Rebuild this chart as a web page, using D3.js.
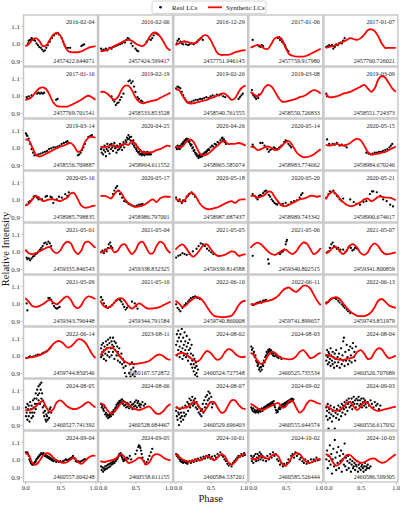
<!DOCTYPE html>
<html>
<head>
<meta charset="utf-8">
<script src="https://cdn.jsdelivr.net/npm/d3@7"></script>
<style>
body{margin:0;background:#fff}
svg{display:block;font-family:"Liberation Serif","DejaVu Serif",serif}
</style>
</head>
<body>
<svg id="chart" width="400" height="507"></svg>
<script>
// panel labels
const dates = [
  "2016-02-04","2016-02-06","2016-12-29","2017-01-06","2017-01-07",
  "2017-01-16","2019-02-19","2019-02-26","2019-03-08","2019-03-09",
  "2019-03-14","2020-04-25","2020-04-26","2020-05-14","2020-05-15",
  "2020-05-16","2020-05-17","2020-05-18","2020-05-20","2020-05-21",
  "2021-05-01","2021-05-04","2021-05-05","2021-05-06","2021-05-07",
  "2021-05-09","2021-05-10","2022-06-10","2022-06-11","2022-06-13",
  "2022-06-14","2023-08-11","2024-08-02","2024-08-03","2024-08-04",
  "2024-08-05","2024-08-06","2024-08-07","2024-09-02","2024-09-03",
  "2024-09-04","2024-09-05","2024-10-01","2024-10-02","2024-10-03"]
const jds = [
  "2457422.644071","2457424.599417","2457751.946145","2457759.917980","2457760.726021",
  "2457769.701541","2458533.853528","2458540.761555","2458550.726833","2458551.724373",
  "2458556.709887","2458964.611552","2458965.585074","2458983.774662","2458984.670246",
  "2458985.798835","2458986.797001","2458987.687437","2458989.743342","2458990.674617",
  "2459335.846543","2459338.832325","2459339.814588","2459340.802515","2459341.800859",
  "2459343.796448","2459344.791584","2459740.860008","2459741.899657","2459743.851979",
  "2459744.850546","2460167.572872","2460524.727548","2460525.735534","2460526.707689",
  "2460527.741392","2460528.684467","2460529.696403","2460555.644574","2460556.617032",
  "2460557.604248","2460558.611155","2460584.537201","2460585.526444","2460586.509305"]

const xTicks = [0, 0.5, 1]
const yTicks = [0.9, 1.0, 1.1]

// phases where the synthetic curves are read
const phases = [0,0.05,0.1,0.15,0.2,0.25,0.3,0.35,0.4,0.45,0.5,0.55,0.6,0.65,0.7,0.75,0.8,0.85,0.9,0.95,1]

// synthetic light curves, one per panel
const synthetic = [
  [0.985,0.995,1.02,1.03,1.015,0.985,0.99,1.02,1.05,1.06,1.045,1.0,0.96,0.95,0.95,0.95,0.955,0.965,0.975,0.98,0.985],
  [0.955,0.958,0.965,0.975,0.985,0.995,1.005,1.015,1.02,1.015,1.0,0.99,0.985,1.0,1.035,1.06,1.06,1.04,1.01,0.975,0.96],
  [0.99,1.0,1.01,1.01,1.005,1.0,1.005,1.025,1.045,1.045,1.02,0.98,0.945,0.935,0.935,0.935,0.94,0.95,0.955,0.96,0.962],
  [0.975,0.985,0.99,0.985,0.97,0.97,1.0,1.03,1.035,1.02,0.975,0.94,0.93,0.925,0.925,0.925,0.93,0.94,0.95,0.96,0.97],
  [0.975,0.98,0.985,0.99,1.0,1.01,1.02,1.03,1.025,1.02,1.03,1.05,1.075,1.08,1.07,1.04,1.0,0.975,0.975,0.975,0.975],
  [0.975,0.98,0.995,1.02,1.04,1.045,1.035,1.0,0.96,0.94,0.937,0.937,0.937,0.945,0.955,0.965,0.975,0.99,0.998,0.99,0.975],
  [1.02,1.02,1.01,0.99,0.975,0.99,1.03,1.055,1.055,1.03,0.99,0.965,0.955,0.96,0.965,0.97,0.975,0.985,0.995,1.005,1.015],
  [1.035,1.03,1.0,0.97,0.955,0.955,0.96,0.965,0.97,0.975,0.985,0.99,1.0,1.01,1.01,0.995,0.975,0.985,1.02,1.045,1.055],
  [1.02,1.005,0.995,1.01,1.045,1.06,1.05,1.02,0.985,0.965,0.965,0.97,0.975,0.98,0.99,0.995,1.005,1.02,1.03,1.025,1.01],
  [1.01,0.99,0.99,0.995,1.0,1.01,1.015,1.02,1.03,1.04,1.05,1.06,1.04,1.02,1.04,1.09,1.11,1.1,1.07,1.04,1.02],
  [1.045,1.04,1.0,0.96,0.948,0.955,0.965,0.975,0.985,0.995,1.005,1.01,1.02,1.025,1.005,0.975,0.985,1.03,1.055,1.06,1.055],
  [1.005,1.0,1.005,1.01,1.01,1.0,1.015,1.02,1.015,1.035,1.02,0.99,0.975,0.97,0.972,0.975,0.985,0.99,1.0,1.01,1.005],
  [1.005,1.0,1.005,1.03,1.045,1.035,1.0,0.965,0.955,0.96,0.975,0.995,1.01,1.03,1.035,1.02,1.02,1.02,1.025,1.02,1.01],
  [1.005,1.0,0.985,0.99,1.0,1.005,0.995,0.985,0.99,1.01,1.03,1.035,1.01,0.975,0.955,0.945,0.945,0.95,0.96,0.975,0.99],
  [1.015,1.01,1.015,1.02,1.015,1.01,1.015,1.025,1.04,1.05,1.04,1.01,0.975,0.96,0.962,0.965,0.97,0.975,0.985,0.995,1.005],
  [0.965,0.975,1.0,1.02,1.01,0.99,0.995,1.0,1.0,0.995,0.99,1.0,1.01,1.035,1.035,1.0,0.965,0.953,0.955,0.962,0.965],
  [1.02,1.02,1.015,1.005,1.03,1.05,1.035,1.0,0.98,0.965,0.958,0.96,0.965,0.975,0.99,1.0,0.985,1.005,1.015,1.015,1.015],
  [1.0,0.995,0.985,1.005,1.035,1.035,1.01,0.975,0.955,0.945,0.945,0.95,0.955,0.965,0.975,0.985,0.99,0.98,0.995,1.0,1.0],
  [1.02,1.02,1.01,1.015,1.025,1.045,1.04,1.01,0.985,0.965,0.962,0.97,0.98,0.99,1.0,1.005,1.01,1.02,1.02,1.015,1.02],
  [1.0,1.03,1.045,1.03,1.005,0.985,0.97,0.962,0.965,0.975,0.985,1.0,1.005,0.99,1.0,1.015,1.015,1.01,1.01,1.005,0.995],
  [1.01,0.99,0.985,0.99,1.0,1.01,1.02,1.025,1.0,0.99,1.005,1.04,1.055,1.045,1.005,0.985,1.005,1.05,1.055,1.04,1.02],
  [0.995,1.0,1.015,1.02,0.995,1.005,1.035,1.04,1.01,0.985,1.005,1.045,1.055,1.025,0.99,0.99,1.03,1.055,1.045,1.01,0.99],
  [1.01,1.03,1.04,1.02,0.99,0.97,0.985,1.01,1.035,1.04,1.015,0.99,0.975,0.975,0.98,0.99,1.0,0.995,0.975,0.98,0.985],
  [1.02,1.04,1.05,1.04,1.02,1.0,0.985,0.98,0.99,1.005,1.01,0.995,0.985,1.0,1.03,1.05,1.045,1.015,0.985,0.995,1.02],
  [0.99,1.0,1.02,1.025,1.0,0.985,1.005,1.035,1.04,1.02,0.99,0.98,0.995,1.03,1.045,1.03,1.0,0.985,0.985,0.99,0.995],
  [1.03,1.01,0.985,0.98,0.985,0.995,1.01,1.02,1.005,0.995,1.01,1.03,1.04,1.02,0.985,0.972,0.99,1.025,1.04,1.035,1.025],
  [1.015,0.985,0.975,0.985,1.005,1.025,1.03,1.015,0.985,0.97,0.985,1.0,0.99,0.975,0.97,0.972,0.975,0.98,0.99,1.0,1.01],
  [1.015,1.0,0.98,0.99,1.01,1.025,1.035,1.03,1.01,0.98,0.95,0.93,0.925,0.922,0.922,0.925,0.93,0.955,0.99,1.01,1.015],
  [0.995,0.995,1.0,1.005,1.01,1.015,1.02,1.03,1.045,1.07,1.085,1.09,1.075,1.065,1.08,1.1,1.1,1.085,1.05,1.015,0.99],
  [0.995,1.015,1.03,1.035,1.025,1.0,0.975,0.955,0.94,0.93,0.928,0.928,0.935,0.95,0.98,1.015,1.025,1.01,0.99,0.98,0.975],
  [0.985,0.988,0.99,0.995,1.0,1.01,1.02,1.04,1.065,1.08,1.08,1.065,1.045,1.05,1.07,1.09,1.09,1.075,1.045,1.01,0.985],
  [1.0,1.025,1.04,1.045,1.035,1.01,0.985,0.965,0.955,0.952,0.952,0.955,0.958,0.962,0.97,0.985,1.0,1.005,0.995,0.98,0.975],
  [1.0,1.01,1.015,1.005,0.99,0.975,0.965,0.975,1.005,1.025,1.015,0.99,0.975,0.985,1.015,1.035,1.03,1.01,0.995,0.99,0.995],
  [1.015,1.0,0.97,0.952,0.965,1.0,1.02,1.015,0.995,0.985,0.98,0.978,0.98,0.995,1.02,1.03,1.01,0.985,0.99,1.005,1.015],
  [1.005,1.0,0.99,0.98,0.975,0.975,0.98,0.985,0.99,1.02,1.03,1.01,0.98,0.985,1.02,1.04,1.035,1.005,0.985,0.99,1.0],
  [0.985,0.985,0.99,1.005,1.025,1.035,1.0,0.975,0.99,1.03,1.04,1.025,1.005,0.995,0.99,0.995,1.005,1.02,1.03,1.015,1.0],
  [1.025,1.015,0.985,0.965,0.975,1.0,1.025,1.03,1.015,1.0,0.99,0.985,0.99,1.0,1.005,0.985,0.965,0.965,0.98,1.005,1.02],
  [1.0,0.995,0.995,1.0,1.01,1.03,1.025,0.995,0.975,1.0,1.03,1.03,1.0,0.97,0.975,1.01,1.04,1.04,1.015,0.995,0.99],
  [1.02,1.01,0.995,0.985,0.99,1.0,1.01,1.02,1.025,1.0,1.005,1.035,1.035,1.0,0.97,0.985,1.02,1.04,1.035,1.025,1.02],
  [1.01,1.0,0.985,0.98,0.985,1.0,1.025,1.03,1.005,0.985,1.005,1.03,1.025,1.0,0.985,0.98,0.985,0.99,0.995,1.0,1.005],
  [1.035,1.025,0.98,0.97,0.99,1.02,1.035,1.03,1.01,0.995,0.985,0.98,0.985,1.0,1.01,0.985,0.975,0.99,1.01,1.02,1.02],
  [0.99,0.985,0.99,0.995,1.0,1.015,1.03,1.01,0.98,0.985,0.995,1.01,1.0,0.97,0.985,1.02,1.03,1.025,1.01,1.0,0.995],
  [1.03,1.015,1.0,0.99,0.985,0.99,1.0,0.995,1.005,1.02,1.01,0.995,1.01,1.03,1.02,0.985,0.97,0.985,1.01,1.025,1.03],
  [1.005,1.0,1.005,1.02,1.01,1.005,1.02,1.03,1.015,0.975,0.965,0.985,1.02,1.035,1.03,1.005,0.985,0.98,0.99,1.0,1.0],
  [1.03,1.02,0.985,0.965,0.975,1.0,1.025,1.025,1.005,0.99,0.98,0.985,0.995,1.005,1.005,0.99,0.98,0.985,1.0,1.015,1.03]
]

// observed light curves: [phase, relative intensity]
const real = [
  [[0.04,1.0],[0.05,1.015],[0.07,1.02],[0.09,1.03],[0.1,1.025],[0.12,1.02],[0.14,1.015],[0.16,1.0],[0.18,0.99],[0.2,0.98],[0.22,0.975],[0.24,0.965],[0.26,0.955],[0.28,0.96],[0.3,0.975],[0.32,0.99],[0.35,1.01],[0.38,1.03],[0.41,1.045],[0.44,1.055],[0.46,1.06],[0.48,1.05],[0.52,1.03],[0.54,1.01],[0.56,0.99],[0.58,0.975],[0.61,0.975],[0.64,0.975],[0.8,0.985],[0.82,0.99],[0.84,0.995]],
  [[0.01,0.97],[0.03,0.96],[0.05,0.965],[0.08,0.97],[0.1,0.96],[0.13,0.975],[0.16,0.97],[0.19,0.98],[0.22,0.985],[0.25,0.99],[0.28,0.995],[0.31,1.0],[0.33,1.01],[0.35,1.005],[0.37,1.02],[0.39,1.03],[0.41,1.025],[0.44,1.0],[0.46,0.985],[0.5,0.97],[0.52,0.96],[0.54,0.955],[0.66,1.01],[0.69,1.025],[0.72,1.02],[0.74,1.03],[0.76,1.045],[0.78,1.06],[0.8,1.055],[0.82,1.05]],
  [[0.02,1.0],[0.03,1.015],[0.05,1.025],[0.07,1.01],[0.09,1.0],[0.11,0.995],[0.13,1.01],[0.15,0.995],[0.18,0.99],[0.2,0.995],[0.23,1.0],[0.26,0.995],[0.29,1.005],[0.31,1.01],[0.33,1.02],[0.35,1.025],[0.37,1.03],[0.39,1.02]],
  [[0.03,1.02],[0.1,0.99],[0.12,0.985],[0.14,0.98],[0.16,0.99],[0.18,0.985],[0.39,1.03],[0.41,1.035],[0.42,1.02],[0.44,1.025],[0.45,1.01],[0.47,1.0],[0.49,0.99],[0.5,0.98],[0.52,0.965],[0.54,0.955]],
  [[0.01,0.98],[0.03,0.985],[0.05,0.99],[0.07,0.985],[0.09,0.99],[0.11,0.97],[0.13,0.98],[0.15,0.995],[0.17,0.99],[0.19,1.0],[0.21,1.005],[0.23,1.0],[0.25,1.015],[0.27,1.03]],
  [[0.02,0.99],[0.03,0.98],[0.05,0.995],[0.07,0.985],[0.09,1.0],[0.17,1.01],[0.19,1.015],[0.21,1.01],[0.23,1.015],[0.25,1.01],[0.27,1.015],[0.44,0.975],[0.46,0.98]],
  [[0.16,0.995],[0.18,0.975],[0.2,0.965],[0.22,0.945],[0.24,0.955],[0.26,0.96],[0.28,0.975],[0.3,0.99],[0.33,1.01],[0.4,1.08],[0.42,1.085],[0.44,1.07],[0.46,1.08],[0.48,1.05],[0.5,1.02],[0.53,0.99],[0.55,0.98],[0.58,0.97],[0.6,0.965]],
  [[0.01,1.04],[0.03,1.05],[0.05,1.045],[0.07,1.04],[0.09,1.02],[0.11,1.0],[0.13,0.985],[0.15,0.97],[0.17,0.96],[0.2,0.96],[0.23,0.965],[0.26,0.97],[0.29,0.975],[0.32,0.975],[0.35,0.98],[0.38,0.98],[0.41,0.985],[0.44,0.99],[0.47,0.985],[0.5,0.995],[0.53,1.0],[0.56,0.995],[0.59,1.005],[0.62,1.0],[0.65,1.005],[0.68,0.995],[0.71,0.99],[0.9,0.98],[0.92,0.99],[0.94,1.0],[0.96,1.01]],
  [[0.02,1.03],[0.03,1.01],[0.04,1.0],[0.06,0.99],[0.08,0.98],[0.09,0.995],[0.11,0.985],[0.12,1.005]],
  [[0.01,1.01],[0.02,0.995]],
  [[0.01,1.08],[0.02,1.07],[0.03,1.065],[0.05,1.05],[0.07,1.02],[0.09,0.99],[0.11,0.97],[0.13,0.955],[0.16,0.955],[0.19,0.96],[0.22,0.965],[0.25,0.97],[0.28,0.975],[0.31,0.98],[0.34,0.99],[0.37,0.995],[0.4,1.0],[0.43,1.0],[0.46,1.005],[0.49,1.01],[0.52,1.02],[0.55,1.025],[0.58,1.03],[0.6,1.035],[0.62,1.025],[0.75,0.955],[0.77,0.96],[0.79,0.97],[0.81,0.985],[0.83,1.0],[0.85,1.02],[0.9,1.06],[0.93,1.065],[0.95,1.07]],
  [[0.01,0.99],[0.02,0.97],[0.03,1.0],[0.04,0.96],[0.05,0.985],[0.06,1.01],[0.07,0.975],[0.08,0.95],[0.09,0.99],[0.1,1.02],[0.11,0.98],[0.12,1.0],[0.13,0.965],[0.14,1.015],[0.15,0.99],[0.16,1.02],[0.17,1.0],[0.18,0.98],[0.19,1.01],[0.2,1.025],[0.21,0.995],[0.22,1.0],[0.23,0.97],[0.24,1.01],[0.25,0.985],[0.26,1.005],[0.27,0.99],[0.28,1.02],[0.29,1.0],[0.3,1.01],[0.31,0.985],[0.32,1.015],[0.33,1.03],[0.34,1.0],[0.35,1.02],[0.36,1.04],[0.37,1.03],[0.38,1.055],[0.39,1.045],[0.4,1.07],[0.41,1.05],[0.42,1.06],[0.43,1.04],[0.44,1.06],[0.45,1.035],[0.46,1.02],[0.47,1.04],[0.48,1.01],[0.49,1.0],[0.5,1.02],[0.51,0.99],[0.52,0.98],[0.53,1.0],[0.54,0.97],[0.55,0.975],[0.56,0.96],[0.57,0.985],[0.58,0.965],[0.59,0.955],[0.6,0.97],[0.61,0.96],[0.62,0.975],[0.63,0.955],[0.64,0.965],[0.65,0.97],[0.66,0.96],[0.67,0.975],[0.68,0.96],[0.69,0.965],[0.7,0.96],[0.71,0.965],[0.72,0.96]],
  [[0.01,1.0],[0.02,0.99],[0.03,1.01],[0.04,0.995],[0.05,1.005],[0.06,0.99],[0.07,1.01],[0.08,1.0],[0.09,1.02],[0.1,1.015],[0.11,1.03],[0.12,1.025],[0.13,1.04],[0.14,1.035],[0.15,1.045],[0.16,1.05],[0.17,1.04],[0.18,1.045],[0.19,1.03],[0.2,1.035],[0.21,1.02],[0.22,1.01],[0.23,1.015],[0.24,0.995],[0.25,1.0],[0.26,0.98],[0.27,0.985],[0.28,0.97],[0.29,0.96],[0.3,0.965],[0.31,0.95],[0.32,0.955],[0.33,0.94],[0.34,0.95],[0.35,0.96],[0.36,0.945],[0.37,0.955],[0.38,0.95],[0.39,0.96],[0.4,0.965],[0.41,0.955],[0.42,0.97],[0.43,0.975],[0.44,0.97],[0.45,0.98],[0.46,0.985],[0.47,0.99],[0.48,0.985],[0.5,1.0],[0.52,1.01],[0.54,1.005],[0.56,1.02],[0.58,1.015],[0.6,1.03],[0.62,1.025],[0.64,1.04],[0.66,1.05],[0.67,1.055],[0.68,1.04],[0.69,1.045],[0.7,1.03],[0.71,1.035],[0.72,1.02]],
  [[0.03,1.015],[0.04,1.005],[0.14,1.025],[0.17,1.025],[0.2,1.01],[0.24,0.99],[0.26,0.975],[0.28,0.985],[0.3,0.99],[0.33,1.0],[0.35,0.995],[0.38,0.99],[0.41,1.0],[0.44,1.01],[0.48,1.03],[0.5,1.04],[0.52,1.035],[0.54,1.02],[0.56,1.01],[0.58,1.0]],
  [[0.02,1.045],[0.05,1.02],[0.1,1.02],[0.13,1.015],[0.16,1.025],[0.2,1.01],[0.23,1.015],[0.27,1.01],[0.3,1.0],[0.58,0.97],[0.61,0.965],[0.64,0.96],[0.67,0.965],[0.7,0.97],[0.73,0.97],[0.76,0.975],[0.79,0.975],[0.82,0.98],[0.85,0.985],[0.88,0.99],[0.91,1.0],[0.93,1.01],[0.95,1.02]],
  [[0.02,0.97],[0.05,0.985],[0.07,0.99],[0.1,1.0],[0.12,1.015],[0.14,1.02],[0.17,1.01],[0.19,1.0],[0.24,1.0],[0.29,1.015],[0.31,1.02],[0.36,1.015],[0.38,1.01],[0.4,0.98],[0.45,1.0],[0.48,1.015],[0.52,1.01],[0.57,1.03],[0.6,1.02],[0.62,1.04]],
  [[0.18,1.03],[0.2,1.05],[0.22,1.065],[0.24,1.075],[0.26,1.05],[0.28,1.03],[0.31,1.01],[0.34,0.99],[0.37,0.985],[0.4,0.975],[0.43,0.97],[0.46,0.965],[0.49,0.96],[0.52,0.965],[0.55,0.97],[0.58,0.97],[0.6,0.975]],
  [[0.01,1.01],[0.04,0.99],[0.06,1.0],[0.09,0.98],[0.11,0.995],[0.14,0.99],[0.16,1.015],[0.18,1.02],[0.2,1.03],[0.23,1.04],[0.25,1.03],[0.28,1.015]],
  [[0.03,1.03],[0.06,1.02],[0.08,1.01],[0.1,1.0],[0.12,1.02],[0.14,1.025],[0.16,1.02],[0.18,1.035],[0.2,1.045],[0.22,1.05],[0.24,1.04],[0.26,1.025],[0.28,1.015],[0.3,1.0],[0.32,0.99],[0.34,0.98],[0.36,0.975],[0.38,0.97],[0.4,0.98],[0.43,0.97],[0.46,0.975],[0.5,0.98],[0.54,0.97],[0.58,0.985],[0.62,0.99],[0.66,0.995],[0.7,1.01],[0.72,1.025],[0.74,1.035]],
  [[0.01,1.01],[0.04,1.03],[0.06,1.045],[0.08,1.04],[0.11,1.05],[0.13,1.035],[0.16,1.02],[0.18,1.015],[0.2,1.0],[0.23,0.99],[0.25,1.005],[0.35,1.0],[0.4,0.985],[0.44,0.975],[0.49,0.97],[0.54,0.985],[0.58,0.99],[0.63,1.03],[0.66,1.045],[0.68,1.045],[0.73,1.04],[0.78,1.02],[0.82,1.0],[0.87,0.99],[0.92,0.97],[0.96,0.96]],
  [[0.02,0.965],[0.03,0.955],[0.05,0.96],[0.07,0.95],[0.09,0.96],[0.11,0.97],[0.13,0.975],[0.15,0.985],[0.17,0.99],[0.19,1.0],[0.21,1.01],[0.23,1.02],[0.25,1.03],[0.27,1.045],[0.29,1.05],[0.31,1.04],[0.33,1.055],[0.35,1.045],[0.37,1.03]],
  [[0.01,0.995],[0.03,1.005],[0.05,0.99],[0.07,1.01],[0.09,1.0],[0.11,1.02],[0.12,1.04],[0.14,1.05],[0.15,1.03],[0.17,1.02]],
  [[0.01,0.965],[0.04,0.975],[0.07,0.98],[0.1,0.99],[0.13,0.985],[0.16,0.98],[0.2,0.985],[0.25,1.0],[0.3,1.015],[0.33,1.03],[0.36,1.045],[0.39,1.04],[0.42,1.03],[0.45,1.015],[0.48,1.005],[0.51,0.995],[0.54,0.985]],
  [[0.03,0.975],[0.25,0.955],[0.26,0.93],[0.4,0.99],[0.42,0.985],[0.44,0.995],[0.46,1.0],[0.48,1.01],[0.5,1.04],[0.51,1.055],[0.52,1.065]],
  [[0.02,0.995],[0.04,1.0],[0.06,1.02],[0.08,1.04],[0.1,1.05],[0.12,1.03],[0.14,1.025],[0.16,1.015],[0.18,1.02],[0.21,1.01],[0.25,1.01],[0.28,0.995],[0.3,1.005],[0.32,1.02],[0.34,1.03],[0.36,1.02],[0.38,1.005],[0.4,1.01],[0.42,1.02],[0.45,1.015]],
  [[0.02,1.0],[0.03,0.96],[0.33,1.03],[0.35,1.03],[0.37,1.02],[0.39,1.0],[0.41,0.985],[0.43,0.975],[0.45,0.97],[0.47,0.975],[0.49,0.98]],
  [[0.01,1.035],[0.03,1.02],[0.05,1.0],[0.08,0.985],[0.11,0.975],[0.14,0.98],[0.17,0.99],[0.2,1.005],[0.22,1.015],[0.24,1.02],[0.26,1.025],[0.28,1.02],[0.3,1.01],[0.32,0.995],[0.34,0.98],[0.36,0.965],[0.38,0.975],[0.4,0.985],[0.45,1.01],[0.49,1.0],[0.51,0.985],[0.53,0.97]],
  [[0.01,0.995],[0.03,0.975],[0.05,0.965],[0.07,0.955],[0.1,0.975],[0.13,0.99],[0.15,1.0],[0.18,1.01],[0.2,1.02],[0.22,1.03],[0.25,1.035],[0.28,1.04],[0.3,1.035],[0.32,1.03],[0.35,1.025]],
  [[0.02,0.995],[0.04,0.99],[0.06,0.995],[0.08,1.0],[0.1,1.005],[0.12,1.005],[0.14,1.01],[0.16,1.005],[0.18,1.015],[0.2,1.015],[0.22,1.02]],
  [[0.01,1.005],[0.04,1.01],[0.06,1.02],[0.08,1.025],[0.1,1.03],[0.13,1.03],[0.15,1.025],[0.18,1.015],[0.2,1.005],[0.23,0.995],[0.25,0.985],[0.27,0.975],[0.3,0.965],[0.32,0.955],[0.35,0.945]],
  [[0.02,0.985],[0.05,0.99],[0.07,0.995],[0.1,0.99],[0.12,0.995],[0.15,1.0],[0.18,1.005],[0.21,1.005],[0.24,1.01],[0.26,1.015],[0.29,1.02],[0.31,1.025],[0.34,1.035],[0.36,1.045]],
  [[0.01,1.04],[0.01,0.99],[0.02,1.06],[0.03,1.0],[0.03,1.02],[0.04,1.07],[0.05,0.98],[0.05,1.03],[0.06,1.05],[0.07,1.01],[0.08,1.08],[0.08,0.97],[0.09,1.04],[0.1,1.06],[0.1,1.0],[0.11,1.09],[0.12,1.02],[0.13,1.07],[0.13,0.99],[0.14,1.1],[0.15,1.04],[0.16,1.08],[0.16,1.0],[0.17,1.06],[0.18,1.1],[0.18,1.02],[0.19,1.05],[0.2,1.08],[0.2,0.98],[0.21,1.03],[0.22,1.07],[0.23,1.0],[0.24,1.05],[0.25,0.97],[0.25,1.02],[0.26,1.0],[0.27,1.04],[0.28,0.96],[0.29,0.99],[0.3,1.01],[0.31,0.95],[0.32,0.98],[0.33,0.93],[0.34,0.96],[0.35,0.9],[0.36,0.94],[0.37,0.88],[0.41,0.9],[0.42,0.95],[0.43,0.88],[0.44,0.92],[0.45,0.96],[0.46,0.89],[0.47,0.93],[0.48,0.95],[0.49,0.88],[0.5,0.91]],
  [[0.01,1.06],[0.02,1.12],[0.02,1.0],[0.03,1.08],[0.04,1.03],[0.04,1.14],[0.05,1.1],[0.06,0.99],[0.06,1.05],[0.07,1.12],[0.08,1.02],[0.08,1.08],[0.09,1.15],[0.1,1.04],[0.1,0.98],[0.11,1.1],[0.12,1.06],[0.12,1.0],[0.13,1.13],[0.14,1.03],[0.14,1.08],[0.15,0.99],[0.16,1.05],[0.16,1.11],[0.17,1.01],[0.18,1.07],[0.18,0.97],[0.19,1.03],[0.2,1.09],[0.2,0.99],[0.21,1.04],[0.22,0.95],[0.22,1.01],[0.23,1.06],[0.24,0.97],[0.24,0.93],[0.25,1.0],[0.26,0.95],[0.26,0.91],[0.27,0.98],[0.28,0.93],[0.28,0.89],[0.29,0.96],[0.3,0.9],[0.3,0.94],[0.31,0.88],[0.32,0.92]],
  [[0.01,1.05],[0.02,1.03],[0.03,1.04],[0.04,1.01],[0.05,1.02],[0.06,0.99],[0.07,1.0],[0.08,0.97],[0.09,0.96],[0.1,0.94],[0.11,0.95],[0.12,0.92],[0.13,0.93],[0.14,0.91],[0.15,0.935],[0.16,0.92],[0.17,0.95],[0.18,0.94],[0.19,0.97],[0.2,0.96],[0.21,0.99],[0.22,1.0],[0.23,1.02],[0.24,1.01],[0.25,1.03],[0.26,1.02],[0.27,1.035],[0.28,1.025],[0.29,1.03],[0.3,1.01],[0.31,1.02],[0.32,1.0],[0.33,1.01],[0.34,0.995],[0.36,1.0],[0.38,0.99],[0.4,0.985],[0.42,0.99],[0.44,0.98]],
  [[0.01,1.0],[0.01,0.97],[0.02,1.03],[0.03,0.95],[0.03,0.99],[0.04,1.02],[0.05,0.96],[0.05,1.01],[0.06,0.98],[0.07,1.04],[0.07,0.94],[0.08,1.0],[0.09,0.97],[0.1,1.02],[0.1,0.95],[0.11,0.99],[0.12,0.93],[0.13,1.01],[0.13,0.96],[0.14,0.98],[0.15,1.03],[0.16,0.94],[0.17,0.99],[0.18,0.96],[0.19,1.01],[0.2,0.93],[0.21,0.98],[0.22,1.04],[0.23,0.95],[0.24,1.0],[0.25,1.08],[0.25,0.97],[0.26,1.1],[0.27,0.94],[0.28,1.02],[0.29,0.97],[0.3,1.06],[0.31,0.99],[0.32,0.95],[0.33,1.03],[0.34,0.97],[0.35,1.05],[0.36,1.0],[0.37,0.96],[0.38,1.04],[0.39,1.07],[0.4,0.99],[0.41,1.02],[0.42,0.97],[0.43,1.05]],
  [[0.01,1.0],[0.01,0.95],[0.02,0.97],[0.03,1.02],[0.03,0.93],[0.04,0.99],[0.05,0.95],[0.05,1.01],[0.06,0.92],[0.07,0.97],[0.07,1.03],[0.08,0.99],[0.09,0.94],[0.09,1.01],[0.1,0.97],[0.11,1.04],[0.11,0.95],[0.12,1.0],[0.13,0.97],[0.13,1.05],[0.14,1.02],[0.15,1.08],[0.15,0.99],[0.16,1.05],[0.17,1.1],[0.17,1.02],[0.18,1.07],[0.19,1.12],[0.19,1.04],[0.2,1.08],[0.21,1.13],[0.21,1.02],[0.22,1.1],[0.23,1.05],[0.23,1.14],[0.24,1.08],[0.25,1.0],[0.25,1.04],[0.26,0.97],[0.27,1.01],[0.27,0.95],[0.28,0.98],[0.29,0.93],[0.3,0.96],[0.3,0.92],[0.31,0.95],[0.32,0.93],[0.33,0.97],[0.34,0.94],[0.35,0.99],[0.36,1.0],[0.37,0.97]],
  [[0.01,1.02],[0.02,1.0],[0.03,1.01],[0.04,0.99],[0.05,0.98],[0.06,1.0],[0.07,0.96],[0.08,0.97],[0.09,0.95],[0.1,0.96],[0.11,0.94],[0.12,0.955],[0.13,0.945],[0.14,0.96],[0.15,0.95],[0.16,0.965],[0.17,0.975],[0.18,0.96],[0.19,0.985],[0.2,0.975],[0.21,0.995],[0.22,1.0],[0.23,1.015],[0.24,1.005],[0.25,1.025],[0.26,1.015],[0.27,1.035],[0.28,1.025],[0.29,1.04],[0.3,1.03],[0.31,1.045],[0.32,1.02],[0.33,1.035],[0.34,1.01],[0.35,1.03],[0.36,1.015],[0.37,1.0],[0.38,1.025],[0.39,1.005],[0.4,1.02],[0.41,0.995],[0.42,1.01],[0.43,1.03],[0.44,1.0],[0.45,1.015],[0.46,0.99],[0.47,1.02],[0.48,1.005],[0.49,1.03],[0.5,1.01],[0.51,1.04],[0.52,1.0],[0.53,1.025],[0.54,1.035],[0.55,1.01],[0.56,1.02],[0.57,1.0],[0.58,1.015],[0.6,1.03],[0.62,1.01],[0.64,1.02]],
  [[0.01,0.98],[0.02,0.95],[0.02,1.0],[0.03,0.93],[0.04,0.97],[0.05,0.9],[0.05,0.96],[0.06,0.99],[0.07,0.94],[0.08,0.92],[0.08,0.97],[0.09,0.95],[0.1,1.0],[0.11,0.93],[0.12,0.97],[0.13,0.95],[0.14,1.01],[0.15,0.96],[0.16,1.0],[0.17,1.03],[0.18,0.98],[0.19,1.02],[0.2,1.05],[0.21,1.0],[0.22,1.04],[0.23,1.02],[0.24,1.06],[0.25,1.01],[0.26,1.04],[0.27,1.02],[0.28,1.05],[0.29,1.0],[0.3,1.03],[0.31,0.99],[0.32,1.01],[0.33,0.97],[0.34,1.0],[0.35,0.96],[0.36,0.98],[0.37,0.95],[0.38,0.99],[0.39,1.02],[0.4,0.97],[0.41,1.04],[0.42,1.0],[0.43,1.06],[0.44,1.02],[0.45,1.07],[0.46,1.04],[0.47,1.09],[0.48,1.05],[0.49,1.08],[0.5,1.03],[0.51,1.06],[0.52,1.0],[0.53,1.02]],
  [[0.01,1.0],[0.02,0.99],[0.03,0.98],[0.04,0.995],[0.05,0.975],[0.06,0.985],[0.07,0.97],[0.08,0.98],[0.09,0.975],[0.1,0.985],[0.11,0.97],[0.12,0.98],[0.13,0.99],[0.14,0.975],[0.15,0.985],[0.16,0.995],[0.17,0.98],[0.18,0.99],[0.19,1.0],[0.2,0.99],[0.21,1.005],[0.22,1.0],[0.23,1.01],[0.24,1.005],[0.25,1.015],[0.26,1.01],[0.27,1.02],[0.28,1.01],[0.29,1.025],[0.3,1.015],[0.31,1.03],[0.32,1.02],[0.33,1.035],[0.34,1.01],[0.35,1.0],[0.36,0.985],[0.37,0.97],[0.38,0.98],[0.39,0.975],[0.4,0.99],[0.41,1.0],[0.42,0.99],[0.43,1.01],[0.44,1.0],[0.45,1.015],[0.46,1.005],[0.47,1.02],[0.48,1.01],[0.49,1.025],[0.5,1.015],[0.51,1.03],[0.52,1.02],[0.53,1.035],[0.54,1.025],[0.55,1.04],[0.56,1.03],[0.57,1.045],[0.58,1.035],[0.59,1.05],[0.6,1.04],[0.61,1.045]],
  [[0.01,1.0],[0.01,0.95],[0.02,0.98],[0.03,0.93],[0.03,1.02],[0.04,0.88],[0.05,0.97],[0.05,0.99],[0.06,0.94],[0.07,1.01],[0.08,0.96],[0.09,0.92],[0.1,0.98],[0.11,0.95],[0.12,1.0],[0.13,0.88],[0.14,0.97],[0.15,0.94],[0.16,0.99],[0.17,0.96],[0.18,1.01],[0.19,0.93],[0.2,0.98],[0.21,1.0],[0.22,0.95],[0.23,1.02],[0.24,0.97],[0.25,1.01],[0.26,0.99],[0.27,1.03],[0.28,0.96],[0.29,1.0],[0.3,1.04],[0.31,0.98],[0.32,1.02],[0.33,1.05],[0.34,1.0],[0.35,1.03],[0.36,1.01],[0.37,1.05],[0.38,0.99],[0.39,1.03],[0.4,1.06],[0.41,1.02],[0.42,1.04],[0.43,1.0],[0.44,1.05],[0.45,1.02],[0.46,1.04],[0.47,1.06],[0.48,1.01],[0.49,1.04],[0.5,1.02],[0.51,1.05],[0.52,1.0],[0.53,1.03],[0.54,1.05],[0.55,1.01],[0.56,1.04],[0.57,1.02],[0.58,1.0],[0.6,1.03],[0.62,1.01],[0.64,1.04],[0.66,1.02],[0.68,1.0],[0.7,1.03],[0.72,1.01],[0.74,1.02],[0.76,0.99],[0.78,1.01]],
  [[0.01,1.04],[0.02,1.035],[0.03,1.04],[0.04,1.03],[0.05,1.02],[0.06,1.0],[0.07,0.99],[0.08,0.98],[0.09,0.975],[0.1,0.97],[0.11,0.975],[0.12,0.97],[0.13,0.98],[0.14,0.985],[0.15,0.99],[0.16,1.0],[0.17,1.005],[0.18,1.01],[0.19,1.015],[0.2,1.02],[0.21,1.025],[0.22,1.03],[0.23,1.035],[0.24,1.03],[0.25,1.025],[0.26,1.035],[0.27,1.025],[0.28,1.02],[0.29,1.03],[0.3,1.015],[0.31,1.02],[0.32,1.01],[0.33,1.015],[0.34,1.005],[0.35,1.01],[0.36,1.0],[0.37,1.005],[0.38,0.995],[0.39,1.0],[0.4,0.99],[0.42,0.995],[0.44,0.985],[0.46,0.99],[0.48,0.985],[0.5,0.99],[0.52,0.985],[0.54,0.99],[0.56,0.995],[0.58,1.0],[0.6,0.995],[0.62,1.0],[0.64,1.005],[0.66,1.01],[0.68,1.02],[0.7,1.005],[0.72,0.99],[0.74,0.985],[0.76,0.99],[0.78,0.985],[0.8,0.99],[0.82,0.995],[0.84,1.0],[0.86,1.0]],
  [[0.01,0.96],[0.02,0.94],[0.03,0.955],[0.04,0.93],[0.05,0.95],[0.06,0.94],[0.07,0.96],[0.08,0.945],[0.09,0.965],[0.1,0.95],[0.11,0.97],[0.12,0.955],[0.13,0.975],[0.14,0.96],[0.15,0.98],[0.16,0.97],[0.17,0.985],[0.18,0.975],[0.19,0.99],[0.2,0.98],[0.21,1.0],[0.22,0.99],[0.23,1.005],[0.24,1.0],[0.25,1.01],[0.26,1.02],[0.27,1.03],[0.28,1.025],[0.29,1.035],[0.3,1.02],[0.31,1.01],[0.32,1.0],[0.33,0.99],[0.34,1.0],[0.35,0.995],[0.36,1.005],[0.37,1.0],[0.38,1.01],[0.4,1.005],[0.42,1.02],[0.44,1.0],[0.5,1.03],[0.52,1.05],[0.54,1.07],[0.55,1.08],[0.56,1.075],[0.57,1.065],[0.58,1.05],[0.59,1.03],[0.6,1.01],[0.62,0.99],[0.64,0.975],[0.66,0.985],[0.68,1.0],[0.7,1.02],[0.72,1.04],[0.74,1.06]],
  [[0.01,1.03],[0.02,1.02],[0.03,1.025],[0.04,1.01],[0.05,1.015],[0.06,1.0],[0.07,0.99],[0.08,1.0],[0.09,0.985],[0.1,0.99],[0.11,0.98],[0.12,0.995],[0.13,0.985],[0.14,0.99],[0.15,0.98],[0.16,0.99],[0.17,0.975],[0.18,0.985],[0.2,0.99],[0.22,0.98],[0.24,0.995],[0.26,0.985],[0.28,1.0],[0.3,0.99],[0.32,1.005],[0.34,0.995],[0.36,1.01],[0.38,1.0],[0.4,1.015],[0.42,1.005],[0.44,1.02],[0.46,1.01],[0.48,1.025],[0.5,1.005],[0.52,1.015],[0.54,1.0],[0.56,1.02],[0.58,1.01],[0.6,1.03],[0.62,1.02],[0.64,1.04],[0.66,1.025],[0.68,1.015],[0.7,1.0],[0.72,0.99],[0.74,0.975],[0.76,0.965],[0.78,0.975],[0.8,0.96],[0.82,0.98],[0.84,0.99],[0.86,1.0],[0.88,1.01],[0.9,1.02],[0.92,1.015],[0.94,1.03],[0.96,1.02],[0.98,1.035],[0.99,1.025]],
  [[0.01,1.02],[0.02,0.99],[0.03,1.01],[0.04,0.98],[0.05,1.02],[0.06,1.0],[0.07,1.03],[0.08,0.99],[0.09,1.01],[0.1,1.03],[0.11,0.995],[0.12,1.02],[0.13,1.04],[0.14,1.0],[0.15,1.03],[0.16,1.01],[0.17,1.02],[0.18,0.995],[0.2,1.01],[0.22,0.99],[0.24,1.02],[0.26,1.0],[0.28,1.03],[0.3,1.01],[0.32,1.04],[0.34,1.02],[0.36,1.03],[0.38,1.0],[0.4,0.99],[0.42,0.97],[0.44,0.98],[0.46,0.96],[0.48,0.975],[0.5,0.965],[0.52,0.98],[0.54,1.0],[0.56,0.99],[0.58,1.02],[0.6,1.03],[0.62,1.01],[0.64,1.04],[0.66,1.02],[0.68,1.03],[0.7,1.0],[0.72,1.01],[0.74,0.99],[0.76,0.98],[0.78,1.0],[0.8,0.975],[0.82,0.99],[0.84,0.98],[0.86,1.0],[0.88,0.985],[0.9,1.0],[0.92,0.99],[0.94,1.01],[0.96,0.995],[0.98,1.0]],
  [[0.01,1.0],[0.02,1.05],[0.03,0.95],[0.04,1.02],[0.05,0.99],[0.06,1.08],[0.07,0.97],[0.08,1.03],[0.09,0.92],[0.1,1.0],[0.11,1.06],[0.12,0.96],[0.13,1.11],[0.14,1.01],[0.15,0.94],[0.16,1.04],[0.17,0.98],[0.18,1.07],[0.19,0.95],[0.2,1.02],[0.21,0.99],[0.22,1.05],[0.23,0.93],[0.24,1.0],[0.25,1.03],[0.26,0.97],[0.27,1.09],[0.28,0.96],[0.29,1.01],[0.3,0.94],[0.31,0.99],[0.32,1.02],[0.33,0.95],[0.34,0.98],[0.35,1.0],[0.36,0.93],[0.37,0.97],[0.38,0.99],[0.39,0.95],[0.4,0.96],[0.41,0.98],[0.42,0.94],[0.43,0.97],[0.44,0.96],[0.45,0.99],[0.46,0.93],[0.47,0.97],[0.48,0.95],[0.49,0.98],[0.5,0.94],[0.51,0.96],[0.52,0.97],[0.53,0.95],[0.54,0.93],[0.55,0.96],[0.56,0.98],[0.57,0.94],[0.58,0.96],[0.59,0.95],[0.6,0.97],[0.62,0.95],[0.64,0.96]]
]

const svg = d3.select("#chart")

// grid of panels
const nCols = 5
const panelW = 74, panelH = 51
const colStep = 75.1, rowStep = 52
const left0 = 23.5, top0 = 15
const nRows = Math.ceil(dates.length / nCols)

dates.forEach((date, i) => {
    const c = i % nCols
    const r = Math.floor(i / nCols)
    const x0 = left0 + c * colStep
    const y0 = top0 + r * rowStep

    const x = d3.scaleLinear().domain([-0.025, 1.03]).range([x0, x0 + panelW])
    const y = d3.scaleLinear().domain([0.872, 1.161]).range([y0 + panelH, y0])

    const g = svg.append("g").attr("class", "panel")

    g.append("clipPath").attr("id", "clip" + i)
    .append("rect")
    .attr("x", x0).attr("y", y0)
    .attr("width", panelW).attr("height", panelH)

    g.append("rect")
    .attr("x", x0).attr("y", y0)
    .attr("width", panelW).attr("height", panelH)
    .attr("fill", "#fff")

    const plot = g.append("g").attr("clip-path", `url(#clip${i})`)

    // observed points
    plot.selectAll("circle")
    .data(real[i])
    .join("circle")
    .attr("cx", d => x(d[0]))
    .attr("cy", d => y(d[1]))
    .attr("r", 1.15)
    .attr("fill", "#000")

    // synthetic curve on top
    const line = d3.line()
    .x((d, k) => x(phases[k]))
    .y(d => y(d))
    .curve(d3.curveCatmullRom)

    plot.append("path")
    .datum(synthetic[i])
    .attr("d", line)
    .attr("fill", "none")
    .attr("stroke", "#ff0000")
    .attr("stroke-width", 1.8)

    // labels inside the panel
    g.append("text")
    .attr("x", x0 + panelW - 3).attr("y", y0 + 9)
    .attr("text-anchor", "end")
    .attr("font-size", 6.1)
    .attr("fill", "#222")
    .text(date)

    g.append("text")
    .attr("x", x0 + panelW - 3).attr("y", y0 + panelH - 3)
    .attr("text-anchor", "end")
    .attr("font-size", 6.1)
    .attr("fill", "#222")
    .text(jds[i])

    // axes only on outer panels
    if (c === 0) {
        const ay = g.append("g")
        .attr("transform", `translate(${x0},0)`)
        .call(d3.axisLeft(y).tickValues(yTicks).tickSize(2).tickPadding(1.5).tickFormat(d3.format(".1f")))
        ay.select(".domain").remove()
        ay.selectAll("line").attr("stroke", "#bbb")
        ay.selectAll("text").attr("font-size", 7).attr("fill", "#333").style("font-family", "'Liberation Serif',serif")
    }
    if (r === nRows - 1) {
        const ax = g.append("g")
        .attr("transform", `translate(0,${y0 + panelH})`)
        .call(d3.axisBottom(x).tickValues(xTicks).tickSize(2).tickPadding(1.5).tickFormat(d3.format(".1f")))
        ax.select(".domain").remove()
        ax.selectAll("line").attr("stroke", "#bbb")
        ax.selectAll("text")
        .attr("font-size", 6.6)
        .attr("fill", "#333")
        .style("font-family", "'Liberation Serif',serif")
        // neighbouring 1.0 / 0.0 labels sit edge to edge, as in the original
        .attr("dx", d => (d === 1 && c < nCols - 1) ? -2.2 : (d === 0 && c > 0) ? 2.2 : 0)
    }

    // frame
    g.append("rect")
    .attr("x", x0).attr("y", y0)
    .attr("width", panelW).attr("height", panelH)
    .attr("fill", "none")
    .attr("stroke", "#c6c6c6")
    .attr("stroke-width", 1.4)
})

// axis titles
svg.append("text")
.attr("transform", `translate(9,${top0 + (nRows * rowStep) / 2}) rotate(-90)`)
.attr("text-anchor", "middle")
.attr("font-size", 10.5)
.attr("fill", "#111")
.text("Relative Intensity")

svg.append("text")
.attr("x", left0 + ((nCols - 1) * colStep + panelW) / 2)
.attr("y", 502)
.attr("text-anchor", "middle")
.attr("font-size", 10.5)
.attr("fill", "#111")
.text("Phase")

// legend
const legend = svg.append("g")
legend.append("rect")
.attr("x", 152).attr("y", 1)
.attr("width", 114).attr("height", 12.5)
.attr("rx", 1.5)
.attr("fill", "#fff")
.attr("stroke", "#ccc")
.attr("stroke-width", 0.8)

legend.append("circle")
.attr("cx", 160.5).attr("cy", 7.3).attr("r", 1.3).attr("fill", "#000")
legend.append("text")
.attr("x", 172).attr("y", 9.7)
.attr("font-size", 6.8).attr("fill", "#111")
.text("Real LCs")

legend.append("line")
.attr("x1", 208).attr("x2", 222).attr("y1", 7.3).attr("y2", 7.3)
.attr("stroke", "#ff0000").attr("stroke-width", 1.8)
legend.append("text")
.attr("x", 226).attr("y", 9.7)
.attr("font-size", 6.8).attr("fill", "#111")
.text("Synthetic LCs")
</script>
</body>
</html>
